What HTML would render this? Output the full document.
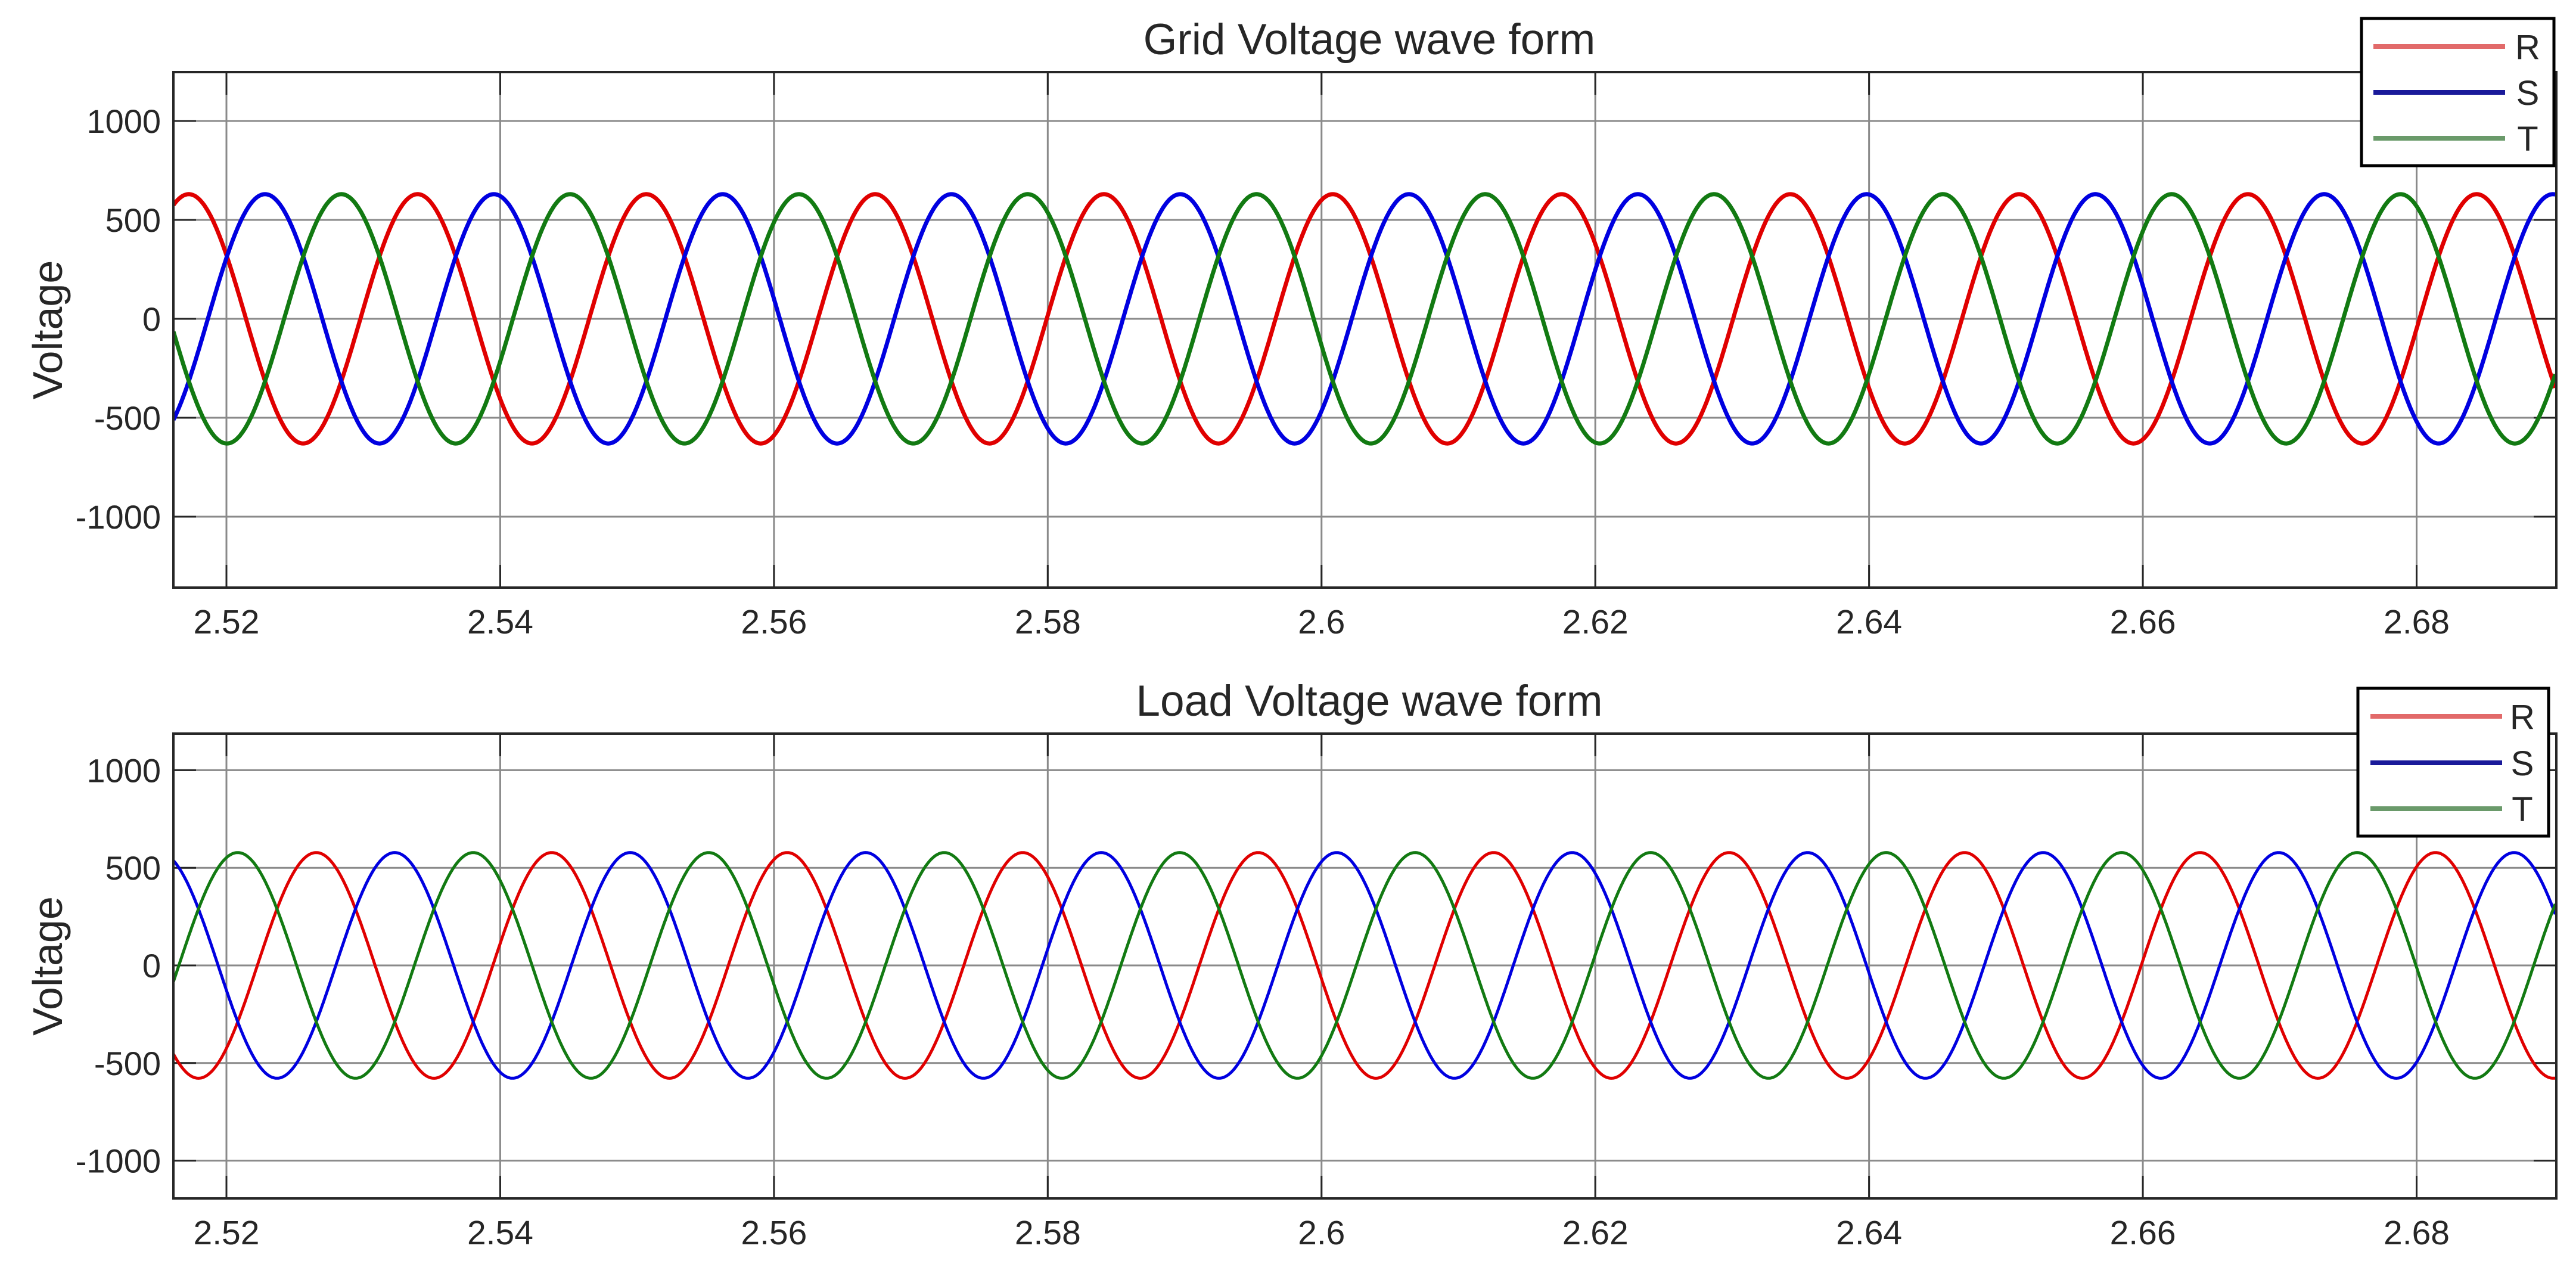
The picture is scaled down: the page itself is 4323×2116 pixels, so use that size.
<!DOCTYPE html>
<html>
<head>
<meta charset="utf-8">
<style>
  html, body { margin: 0; padding: 0; background: #ffffff; }
  svg { display: block; }
  text { font-family: "Liberation Sans", Arial, sans-serif; fill: #262626; }
</style>
</head>
<body>
<svg id="fig" width="4323" height="2116" viewBox="0 0 4323 2116" xmlns="http://www.w3.org/2000/svg"></svg>
<script>
// ---- Data ----
const phaseNames = ["R", "S", "T"];
const phaseColors = ["#e00000", "#0000e0", "#127a12"];
const legendColors = ["#e26a6a", "#1a1a9a", "#6a9a6a"];
// Phase offsets in fractions of a period (S lags R by 1/3, T by 2/3)
const phaseLag = [0, 1 / 3, 2 / 3];

const gridAmplitude = [630, 630, 630];          // volts peak
const gridFrequency = [59.83];                   // Hz
const gridPeakTime = [2.51725];                  // time of an R peak (s)

const loadAmplitude = [578, 578, 578];
const loadFrequency = [58.13];
const loadPeakTime = [2.52656];

const xTicks = [2.52, 2.54, 2.56, 2.58, 2.6, 2.62, 2.64, 2.66, 2.68];
const xTickLabels = ["2.52", "2.54", "2.56", "2.58", "2.6", "2.62", "2.64", "2.66", "2.68"];
const yTicks = [1000, 500, 0, -500, -1000];
const yTickLabels = ["1000", "500", "0", "-500", "-1000"];
const timeRange = [2.51613, 2.69018];

// ---- Layout ----
const NS = "http://www.w3.org/2000/svg";
const svg = document.getElementById("fig");
const axLeft = 291, axRight = 4290;
const xScale = t => 380 + (t - 2.52) * 22972;

const panels = [
  { name: "grid", title: "Grid Voltage wave form", top: 121, bottom: 986, zeroY: 535, pxPerV: 0.332,
    amp: gridAmplitude, freq: gridFrequency, peak: gridPeakTime, width: 7,
    legend: { x1: 3963, y1: 31, x2: 4286, y2: 278, rows: [78, 155, 232], lx1: 3983, lx2: 4204, tx: 4242 } },
  { name: "load", title: "Load Voltage wave form", top: 1231, bottom: 2011, zeroY: 1620, pxPerV: 0.3276,
    amp: loadAmplitude, freq: loadFrequency, peak: loadPeakTime, width: 5,
    legend: { x1: 3957, y1: 1155, x2: 4277, y2: 1403, rows: [1202, 1280, 1357], lx1: 3978, lx2: 4199, tx: 4233 } }
];

function el(tag, attrs, parent) {
  const e = document.createElementNS(NS, tag);
  for (const k in attrs) e.setAttribute(k, attrs[k]);
  (parent || svg).appendChild(e);
  return e;
}

panels.forEach(p => {
  const yScale = v => p.zeroY - v * p.pxPerV;
  const g = el("g", {});
  
  

  const bg = el("rect", { x: axLeft, y: p.top, width: axRight - axLeft, height: p.bottom - p.top, fill: "#ffffff" }, g);
  
  

  yTicks.forEach((v, i) => {
    const y = yScale(v);
    const gl = el("line", { x1: axLeft, x2: axRight, y1: y, y2: y, stroke: "#8a8a8a", "stroke-width": 3 }, g);
    
    
    const tk1 = el("line", { x1: axLeft, x2: axLeft + 38, y1: y, y2: y, stroke: "#262626", "stroke-width": 3 }, g);
    
    
    const tk2 = el("line", { x1: axRight - 38, x2: axRight, y1: y, y2: y, stroke: "#262626", "stroke-width": 3 }, g);
    
    
    const lab = el("text", { x: 270, y: y + 20, "text-anchor": "end", "font-size": 56 }, g);
    lab.textContent = yTickLabels[i];
    
    
  });
  xTicks.forEach((t, i) => {
    const x = xScale(t);
    const gl = el("line", { x1: x, x2: x, y1: p.top, y2: p.bottom, stroke: "#8a8a8a", "stroke-width": 3 }, g);
    
    
    const tk1 = el("line", { x1: x, x2: x, y1: p.bottom - 38, y2: p.bottom, stroke: "#262626", "stroke-width": 3 }, g);
    
    
    const tk2 = el("line", { x1: x, x2: x, y1: p.top, y2: p.top + 38, stroke: "#262626", "stroke-width": 3 }, g);
    
    
    const lab = el("text", { x: x, y: p.bottom + 77, "text-anchor": "middle", "font-size": 57 }, g);
    lab.textContent = xTickLabels[i];
    
    
  });

  const clipId = "clip-" + p.name;
  const cp = el("clipPath", { id: clipId }, g);
  el("rect", { x: axLeft, y: p.top, width: axRight - axLeft, height: p.bottom - p.top }, cp);
  const period = 1 / p.freq[0];
  phaseNames.forEach((ph, k) => {
    const pts = [];
    for (let t = timeRange[0]; t <= timeRange[1] + 1e-9; t += 0.00008) {
      const v = p.amp[k] * Math.cos(2 * Math.PI * (t - p.peak[0] - phaseLag[k] * period) / period);
      pts.push(xScale(t).toFixed(1) + "," + yScale(v).toFixed(1));
    }
    const line = el("polyline", { points: pts.join(" "), fill: "none", stroke: phaseColors[k],
      "stroke-width": p.width, "stroke-linejoin": "round", "clip-path": "url(#" + clipId + ")" }, g);
    
    
  });

  const box = el("rect", { x: axLeft, y: p.top, width: axRight - axLeft, height: p.bottom - p.top,
    fill: "none", stroke: "#262626", "stroke-width": 4 }, g);
  
  

  const title = el("text", { x: 2298, y: p.top - 30, "text-anchor": "middle", "font-size": 73, fill: "#000" }, g);
  title.textContent = p.title;
  
  

  const cy = (p.top + p.bottom) / 2;
  const yl = el("text", { x: 0, y: 0, "text-anchor": "middle", "font-size": 70, fill: "#000",
    transform: "translate(104," + cy + ") rotate(-90)" }, g);
  yl.textContent = "Voltage";
  
  

  const L = p.legend;
  const lg = el("g", {}, g);
  
  
  el("rect", { x: L.x1, y: L.y1, width: L.x2 - L.x1, height: L.y2 - L.y1, fill: "#fff", stroke: "#000", "stroke-width": 5 }, lg);
  phaseNames.forEach((ph, k) => {
    const entry = el("g", {}, lg);
    
    
    el("line", { x1: L.lx1, x2: L.lx2, y1: L.rows[k], y2: L.rows[k], stroke: legendColors[k], "stroke-width": 8 }, entry);
    const tx = el("text", { x: L.tx, y: L.rows[k] + 21, "text-anchor": "middle", "font-size": 58, fill: "#000" }, entry);
    tx.textContent = ph;
  });
});
</script>
</body>
</html>
